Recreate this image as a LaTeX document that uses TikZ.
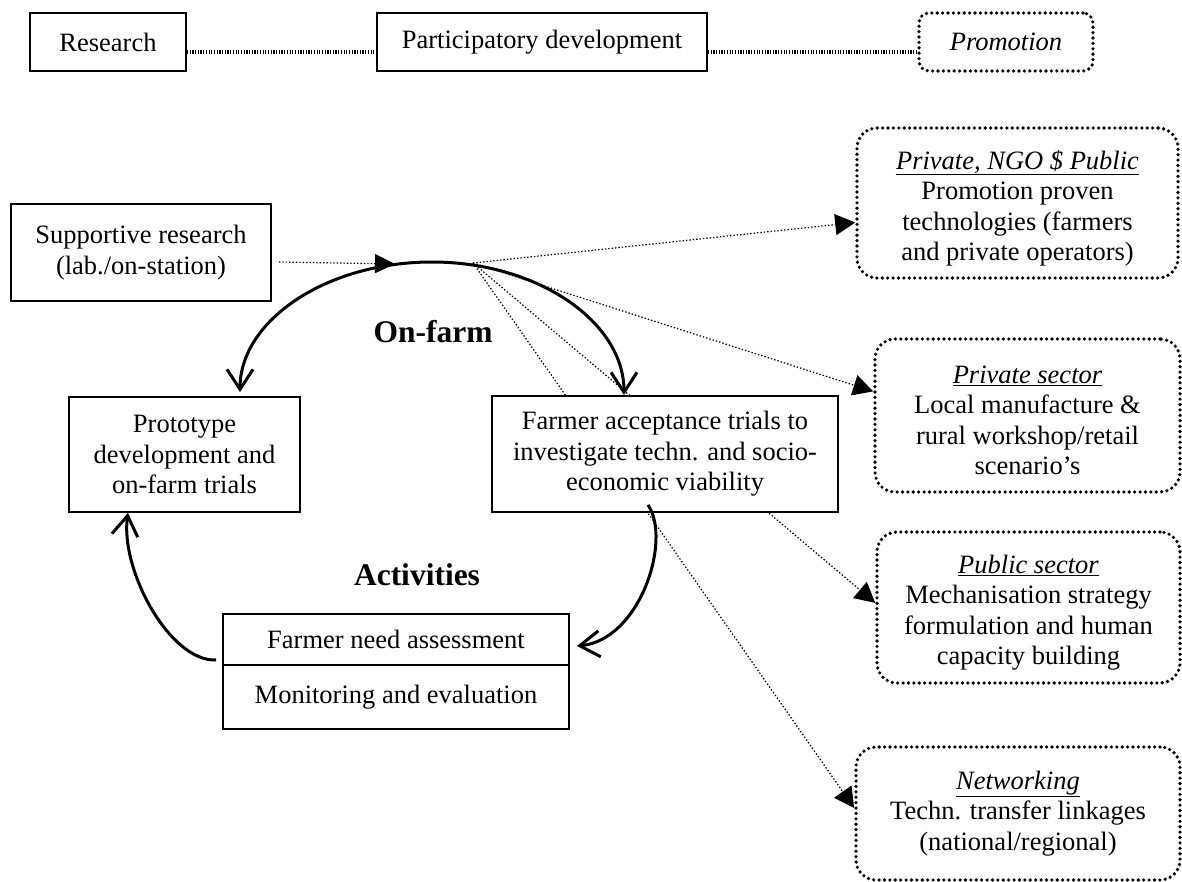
\documentclass[tikz,border=0pt]{standalone}
\usepackage{fontspec}
\setmainfont{Liberation Serif}
\usetikzlibrary{arrows.meta,calc}
\begin{document}
\begin{tikzpicture}[x=1pt,y=-1pt,
  txt/.style={font=\fontsize{26.5}{30.5}\selectfont, align=center, inner sep=0pt},
  solidbox/.style={txt, draw, line width=1.8pt, fill=white},
  dotbox/.style={txt, draw, line width=3.6pt, dash pattern=on 0pt off 5.4pt, line cap=round, rounded corners=20pt},
  toplink/.style={line width=3.4pt, dash pattern=on 1.2pt off 1.5pt},
  hubline/.style={line width=1.2pt, dash pattern=on 1.4pt off 2pt, -{Triangle[length=20pt,width=21pt]}},
  cyc/.style={line width=3pt},
  ob/.tip={Straight Barb[length=20pt,width=26pt]},
  lbl/.style={font=\fontsize{31.5}{36}\selectfont\bfseries, inner sep=0pt},
  boxtext/.style={label={[txt, yshift=-5pt]center:{#1}}}
]
\useasboundingbox (0,0) rectangle (1182,882);

% top row
\node[solidbox, minimum width=156pt, minimum height=58pt] (research) at (108,42) {Research};
\node[solidbox, minimum width=330pt, minimum height=58pt] (partdev) at (542,42) {Participatory development};
\node[dotbox, rounded corners=10pt, minimum width=174pt, minimum height=58pt] (promo) at (1006,42) {\textit{Promotion}};
\draw[toplink] ([yshift=-10pt]research.east) -- ([yshift=-10pt]partdev.west);
\draw[toplink] ([yshift=-10pt]partdev.east) -- ([yshift=-10pt]promo.west);

% right boxes
\node[dotbox, minimum width=321pt, minimum height=150pt,
  boxtext={\underline{\textit{Private, NGO \$ Public}}\\Promotion proven\\technologies (farmers\\and private operators)}] (ngo) at (1017.5,203) {};
\node[dotbox, minimum width=305pt, minimum height=153pt,
  boxtext={\underline{\textit{Private sector}}\\Local manufacture \&\\rural workshop/retail\\scenario’s}] (privsec) at (1027.5,415.5) {};
\node[dotbox, minimum width=303pt, minimum height=151pt,
  boxtext={\underline{\textit{Public sector}}\\Mechanisation strategy\\formulation and human\\capacity building}] (pubsec) at (1028.5,607.5) {};
\node[dotbox, minimum width=324pt, minimum height=133pt] (network) at (1018,813.5)
  {\underline{\textit{Networking}}\\Techn. transfer linkages\\(national/regional)};

% hub lines
\coordinate (hub) at (473,263);
\draw[hubline] (hub) -- ($(ngo.north west)!0.627!(ngo.south west)$);
\draw[hubline] (hub) -- ($(privsec.north west)!0.346!(privsec.south west)$);
\draw[hubline] (hub) -- ($(pubsec.north west)!0.47!(pubsec.south west)$);
\draw[hubline] (hub) -- ($(network.north west)!0.46!(network.south west)$);

% main boxes
\node[solidbox, minimum width=260pt, minimum height=97pt] (support) at (141,252.5)
  {Supportive research\\(lab./on-station)};
\node[solidbox, minimum width=231pt, minimum height=115pt] (proto) at (184.5,454.5)
  {Prototype\\development and\\on-farm trials};
\node[solidbox, minimum width=346pt, minimum height=116pt] (accept) at (665,454)
  {Farmer acceptance trials to\\investigate techn. and socio-\\economic viability};
\node[solidbox, minimum width=346pt, minimum height=51pt] (need1) at (396,639.5)
  {Farmer need assessment};
\node[solidbox, minimum width=346pt, minimum height=64pt] (need2) at (396,697)
  {Monitoring and evaluation};

% supportive research arrow
\coordinate (tsup) at (395,264);
\draw[line width=1.2pt, dash pattern=on 1.4pt off 2pt, -{Triangle[length=20pt,width=19pt]}]
  ([xshift=7pt,yshift=-9.5pt]support.east) -- (tsup);

% cycle arcs
\draw[cyc, ob-ob] ([xshift=55.5pt,yshift=4pt]proto.north)
  .. controls (240,320.7) and (326,262) .. (432,262)
  .. controls (538,262) and (624,322) .. ([xshift=-41pt]accept.north);
\draw[cyc, -ob] ([xshift=-17pt,yshift=8pt]accept.south)
  .. controls (672,540) and (640,640) .. ([xshift=7pt,yshift=-6.5pt]need1.east);
\draw[cyc, -ob] ([xshift=-6pt,yshift=-20.5pt]need1.west)
  .. controls (170,662) and (120,570) .. ([xshift=-56.5pt]proto.south);

% labels
\node[lbl] (onfarm) at (433,332) {On-farm};
\node[lbl] (activities) at (417,575) {Activities};
\end{tikzpicture}
\end{document}
